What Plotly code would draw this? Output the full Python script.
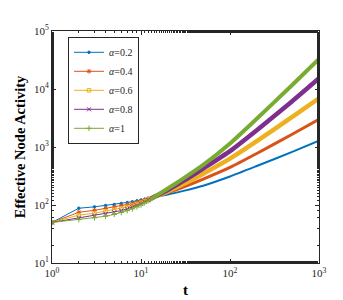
import plotly.graph_objects as go

t_head = [1, 2, 3, 4, 5, 6, 7, 8, 9, 10, 11, 12]
t_tail = [12, 14, 20, 30, 50, 100, 200, 500, 1000]

labels = ["<i>α</i>=0.2", "<i>α</i>=0.4", "<i>α</i>=0.6", "<i>α</i>=0.8", "<i>α</i>=1"]

head_a02 = [50, 88, 93, 98, 102, 106, 110, 114, 118, 122, 126, 130]
head_a04 = [50, 75, 81, 87, 92, 97, 102, 106, 111, 116, 122, 127]
head_a06 = [50, 67, 72, 78, 83, 88, 93, 98, 104, 110, 117, 124]
head_a08 = [50, 60, 65, 70, 75, 80, 86, 92, 98, 105, 113, 121]
head_a10 = [50, 56, 60, 64, 69, 74, 80, 86, 93, 100, 109, 118]

tail_a02 = [130, 137, 151, 175, 215, 310, 470, 826, 1285]
tail_a04 = [127, 137, 163, 204, 280, 445, 774, 1660, 3000]
tail_a06 = [124, 137, 172, 230, 347, 630, 1260, 3300, 6900]
tail_a08 = [121, 137, 181, 260, 425, 850, 1950, 6150, 15300]
tail_a10 = [118, 137, 192, 287, 490, 1150, 3070, 11700, 33000]

heads = [head_a02, head_a04, head_a06, head_a08, head_a10]
tails = [tail_a02, tail_a04, tail_a06, tail_a08, tail_a10]

colors = ["#0072BD", "#D95319", "#EDB120", "#7E2F8E", "#77AC30"]
symbols = ["circle", "asterisk-open", "square-open", "x-thin-open", "cross-thin-open"]
msizes = [2.5, 4, 3.5, 4, 4]
band_w = [2, 3, 4.5, 4.5, 4]

fig = go.Figure()
for i in range(5):
    fig.add_trace(go.Scatter(
        x=t_tail, y=tails[i], mode="lines",
        line=dict(color=colors[i], width=band_w[i], shape="spline", smoothing=0.6),
        showlegend=False, hoverinfo="skip"))
for i in range(5):
    fig.add_trace(go.Scatter(
        x=t_head, y=heads[i], mode="lines+markers", name=labels[i],
        line=dict(color=colors[i], width=1),
        marker=dict(symbol=symbols[i], size=msizes[i], color=colors[i],
                    line=dict(color=colors[i], width=1))))

serif = "Liberation Serif, Times New Roman, serif"
xt = [1, 10, 100, 1000]
yt = [10, 100, 1000, 10000, 100000]
fig.update_layout(
    width=343, height=300,
    margin=dict(l=44, r=32, t=23, b=38),
    paper_bgcolor="white", plot_bgcolor="white",
    font=dict(family=serif, size=11, color="#262626"),
    legend=dict(x=0.06, y=0.975, xanchor="left", yanchor="top",
                bgcolor="white", bordercolor="#262626", borderwidth=1,
                font=dict(family=serif, size=10, color="#262626"),
                itemwidth=30, tracegroupgap=0),
    xaxis=dict(type="log", range=[0, 3], showgrid=False, zeroline=False,
               showline=True, linecolor="#262626", linewidth=1, mirror="ticks",
               ticks="inside", ticklen=4, tickcolor="#262626",
               tickvals=xt, ticktext=["10<sup>0</sup>", "10<sup>1</sup>", "10<sup>2</sup>", "10<sup>3</sup>"],
               minor=dict(ticks="inside", ticklen=2, tickcolor="#262626", showgrid=False),
               title=dict(text="<b>t</b>", font=dict(family=serif, size=15, color="#000000"), standoff=6)),
    yaxis=dict(type="log", range=[1, 5], showgrid=False, zeroline=False,
               showline=True, linecolor="#262626", linewidth=1, mirror="ticks",
               ticks="inside", ticklen=4, tickcolor="#262626",
               tickvals=yt, ticktext=["10<sup>1</sup>", "10<sup>2</sup>", "10<sup>3</sup>", "10<sup>4</sup>", "10<sup>5</sup>"],
               minor=dict(ticks="inside", ticklen=2, tickcolor="#262626", showgrid=False),
               title=dict(text="<b>Effective Node Activity</b>", font=dict(family=serif, size=14.5, color="#000000"), standoff=4)),
)
fig.write_html("out.html")
